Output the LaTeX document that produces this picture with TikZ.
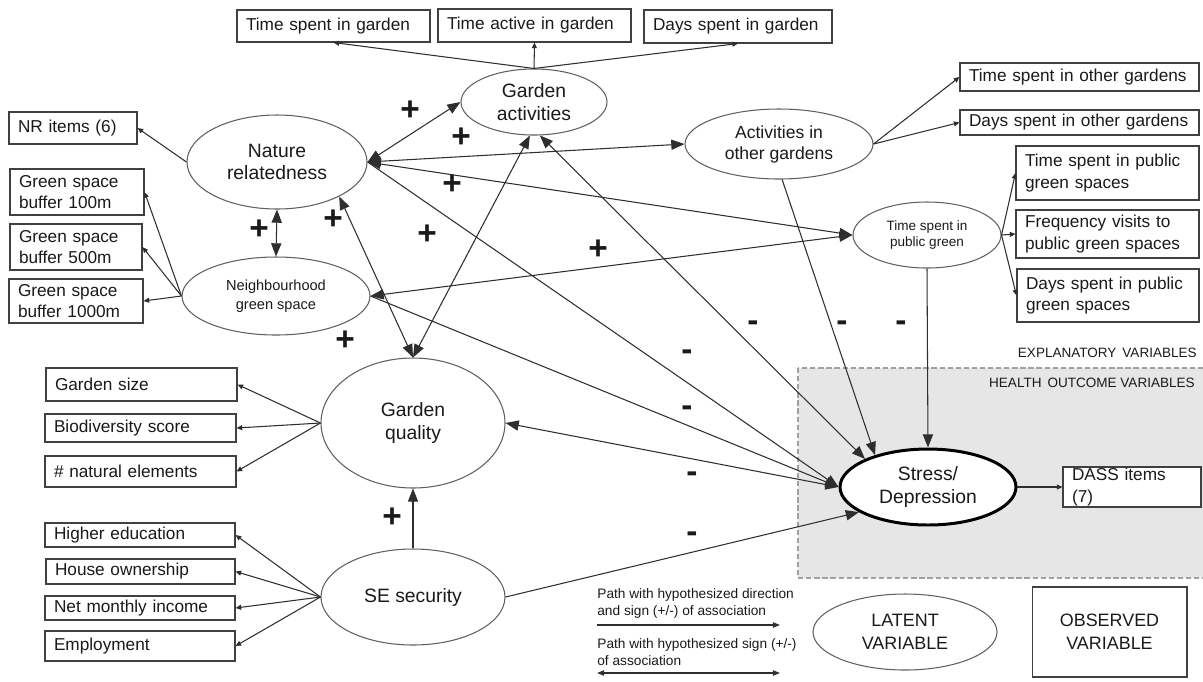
\documentclass[tikz,border=0pt]{standalone}
\usepackage{fontspec}
\setmainfont{Liberation Sans}
\usetikzlibrary{arrows.meta,shapes.geometric}
\definecolor{boxgray}{HTML}{404040}
\definecolor{ellgray}{HTML}{606060}
\definecolor{linegray}{HTML}{2E2E2E}
\definecolor{regionfill}{HTML}{E6E6E6}
\definecolor{regionline}{HTML}{A0A0A0}
\definecolor{txt}{HTML}{1A1A1A}
\newcommand\fBox{\fontsize{9.8}{12}\selectfont}
\newcommand\fEll{\fontsize{11}{13}\selectfont}
\newcommand\fAog{\fontsize{10}{12}\selectfont}
\newcommand\fNgs{\fontsize{8.3}{10.6}\selectfont}
\newcommand\fTpg{\fontsize{7.7}{9.6}\selectfont}
\newcommand\fLeg{\fontsize{7.8}{9.6}\selectfont}
\newcommand\fReg{\fontsize{7.7}{9}\selectfont}
\newcommand\fLgn{\fontsize{10.2}{13}\selectfont}
\newcommand\fSign{\fontsize{19}{19}\selectfont\bfseries}
\newcommand\obsnode[6]{%
  \pgfmathsetmacro\obcx{(#2+#4)/2}%
  \pgfmathsetmacro\obcy{(#3+#5)/2}%
  \pgfmathsetlengthmacro\obw{(#4-#2)*0.02cm}%
  \pgfmathsetlengthmacro\obh{(#5-#3)*0.02cm}%
  \pgfmathsetlengthmacro\obtw{(#4-#2-18)*0.02cm}%
  \node[obs, minimum width=\obw, minimum height=\obh, text width=\obtw] (#1) at (\obcx,\obcy) {#6};}
\newcommand\latnode[7]{%
  \pgfmathsetlengthmacro\lw{2*#4*0.02cm}%
  \pgfmathsetlengthmacro\lh{2*#5*0.02cm}%
  \node[lat, minimum width=\lw, minimum height=\lh, font=#6] (#1) at (#2,#3) {#7};}
\tikzset{
  obs/.style={draw=boxgray, line width=0.6pt, fill=white, rectangle, inner xsep=0.18cm, inner ysep=0pt, align=left, font=\fBox, text=txt},
  lat/.style={draw=ellgray, line width=0.6pt, fill=white, ellipse, inner sep=0pt, align=center, text=txt},
  conn/.style={draw=linegray, line width=0.6pt},
  arrbig/.style={-{Triangle[length=7.5pt,width=5.8pt]}},
  arrboth/.style={{Triangle[length=7.5pt,width=5.8pt]}-{Triangle[length=7.5pt,width=5.8pt]}},
  arrsmall/.style={-{Triangle[length=3.2pt,width=2.8pt]}},
  arrleg/.style={-{Triangle[length=4pt,width=3pt]}},
  arrlegboth/.style={{Triangle[length=4pt,width=3pt]}-{Triangle[length=4pt,width=3pt]}},
  plussign/.style={font=\fSign, inner sep=0pt, anchor=base, yshift=-0.234cm, text=txt},
  minussign/.style={font=\fSign, inner sep=0pt, anchor=base, yshift=-0.168cm, text=txt},
}
\begin{document}
\begin{tikzpicture}[x=0.02cm, y=-0.02cm]
\useasboundingbox (0,0) rectangle (1203,681);
% region
\fill[regionfill] (798,368) rectangle (1215,578);
\draw[regionline, line width=0.6pt, dash pattern=on 3pt off 1.6pt] (798,368) rectangle (1215,578);
\node[anchor=east, font=\fReg, inner sep=0pt, text=txt] (expl) at (1197,353) {EXPLANATORY\, VARIABLES};
\node[anchor=east, font=\fReg, inner sep=0pt, text=txt] (hov) at (1195,383) {HEALTH\, OUTCOME VARIABLES};
% observed boxes
\obsnode{tsg}{237}{10}{430}{42}{Time spent in garden}
\obsnode{tag}{438}{9}{631}{42}{Time active in garden}
\obsnode{dsg}{644}{10}{832}{43}{Days spent in garden}
\obsnode{nri}{9}{112}{137}{144}{NR items (6)}
\obsnode{gb1}{10}{169}{144}{215}{Green space\\buffer 100m}
\obsnode{gb5}{10}{224}{142}{270}{Green space\\buffer 500m}
\obsnode{gb10}{9}{279}{143}{323}{Green space\\buffer 1000m}
\obsnode{tsog}{960}{63}{1199}{91}{Time spent in other gardens}
\obsnode{dsog}{960}{110}{1199}{135}{Days spent in other gardens}
\obsnode{tspg}{1016}{146}{1199}{200}{Time spent in public\\green spaces}
\obsnode{fvpg}{1016}{210}{1199}{258}{Frequency visits to\\public green spaces}
\obsnode{dspg}{1017}{269}{1199}{322}{Days spent in public\\green spaces}
\obsnode{gsz}{46}{368}{237}{401}{Garden size}
\obsnode{bio}{45}{414}{236}{442}{Biodiversity score}
\obsnode{nat}{45}{456}{236}{487}{\# natural elements}
\obsnode{edu}{45}{523}{235}{547}{Higher education}
\obsnode{own}{46}{559}{235}{584}{House ownership}
\obsnode{inc}{45}{596}{235}{620}{Net monthly income}
\obsnode{emp}{45}{631}{235}{661}{Employment}
\obsnode{dass}{1063}{467}{1201}{507}{DASS items\\(7)}
% latent
\latnode{ga}{534}{102}{73}{33}{\fEll}{Garden\\activities}
\latnode{nr}{277}{162}{90}{47}{\fEll}{Nature\\relatedness}
\latnode{ngs}{276}{296}{94}{39}{\fNgs}{Neighbourhood\\green space}
\latnode{aog}{779}{144}{94}{35}{\fAog}{Activities in\\other gardens}
\latnode{tpg}{927}{235}{74}{33}{\fTpg}{Time spent in\\public green}
\latnode{gq}{413}{423}{92}{65}{\fEll}{Garden\\quality}
\latnode{se}{413}{597}{92}{48}{\fEll}{SE security}
\latnode{latleg}{905}{632}{92}{38}{\fLgn}{LATENT\\VARIABLE}
\node[lat, draw=black, line width=1.7pt, minimum width=3.52cm, minimum height=1.52cm, font=\fEll] (stress) at (928,487) {Stress/\\Depression};
\node[draw=boxgray, line width=0.6pt, minimum width=3.1cm, minimum height=1.8cm, align=center, font=\fLgn, text=txt] (obsleg) at (1109.5,632) {OBSERVED\\VARIABLE};
% indicator arrows
\foreach \t in {tsg,tag,dsg} \draw[conn,arrsmall] (ga.north) -- (\t.south);
\draw[conn,arrsmall] (nr.west) -- (nri.east);
\foreach \t in {gb1,gb5,gb10} \draw[conn,arrsmall] (ngs.west) -- (\t.east);
\foreach \t in {tsog,dsog} \draw[conn,arrsmall] (aog.east) -- (\t.west);
\foreach \t in {tspg,fvpg,dspg} \draw[conn,arrsmall] (tpg.east) -- (\t.west);
\foreach \t in {gsz,bio,nat} \draw[conn,arrsmall] (gq.west) -- (\t.east);
\foreach \t in {edu,own,inc,emp} \draw[conn,arrsmall] (se.west) -- (\t.east);
\draw[conn,arrsmall] (stress.east) -- (dass.west);
% structural paths
\draw[conn,arrboth] (nr.east) -- (ga.west);
\draw[conn,arrboth] (nr.east) -- (aog.west);
\draw[conn,arrboth] (nr.east) -- (tpg.west);
\draw[conn,arrbig] (nr.east) -- (stress.west);
\draw[conn,arrboth] (nr.south) -- (ngs.north);
\draw[conn,arrboth] (nr.331) -- (gq.north);
\draw[conn,arrboth] (ga.263) -- (gq.north);
\draw[conn,arrboth] (ga.280) -- (stress.156);
\draw[conn,arrboth] (ngs.east) -- (tpg.west);
\draw[conn,arrbig] (ngs.east) -- (stress.west);
\draw[conn,arrbig] (aog.275) -- (stress.149);
\draw[conn,arrbig] (tpg.south) -- (stress.north);
\draw[conn,arrboth] (gq.east) -- (stress.west);
\draw[conn,arrbig] (se.east) -- (stress.200);
\draw[conn,arrbig] (se.north) -- (gq.south);
% signs
\node[plussign] (s1) at (410,109) {+};
\node[plussign] (s2) at (461,136) {+};
\node[plussign] (s3) at (452,183) {+};
\node[plussign] (s4) at (333,218) {+};
\node[plussign] (s5) at (427,233) {+};
\node[plussign] (s6) at (345,339) {+};
\node[plussign] (s7) at (598,248) {+};
\node[plussign] (s8) at (259,228) {+};
\node[plussign] (s9) at (392,516) {+};
\node[minussign] (m1) at (753,323) {-};
\node[minussign] (m2) at (842,323) {-};
\node[minussign] (m3) at (901,323) {-};
\node[minussign] (m4) at (687,352) {-};
\node[minussign] (m5) at (687,408) {-};
\node[minussign] (m6) at (692,474) {-};
\node[minussign] (m7) at (692,534) {-};
% legend
\node[anchor=west, align=left, font=\fLeg, inner sep=0pt, text=txt] (leg1) at (597,603.5) {Path with hypothesized direction\\and sign (+/-) of association};
\node[anchor=west, align=left, font=\fLeg, inner sep=0pt, text=txt] (leg2) at (597,652) {Path with hypothesized sign (+/-)\\of association};
\coordinate (l1a) at (597,625);
\coordinate (l1b) at (780,625);
\coordinate (l2a) at (597,673);
\coordinate (l2b) at (780,673);
\draw[conn,arrleg] (l1a) -- (l1b);
\draw[conn,arrlegboth] (l2a) -- (l2b);
\end{tikzpicture}
\end{document}
